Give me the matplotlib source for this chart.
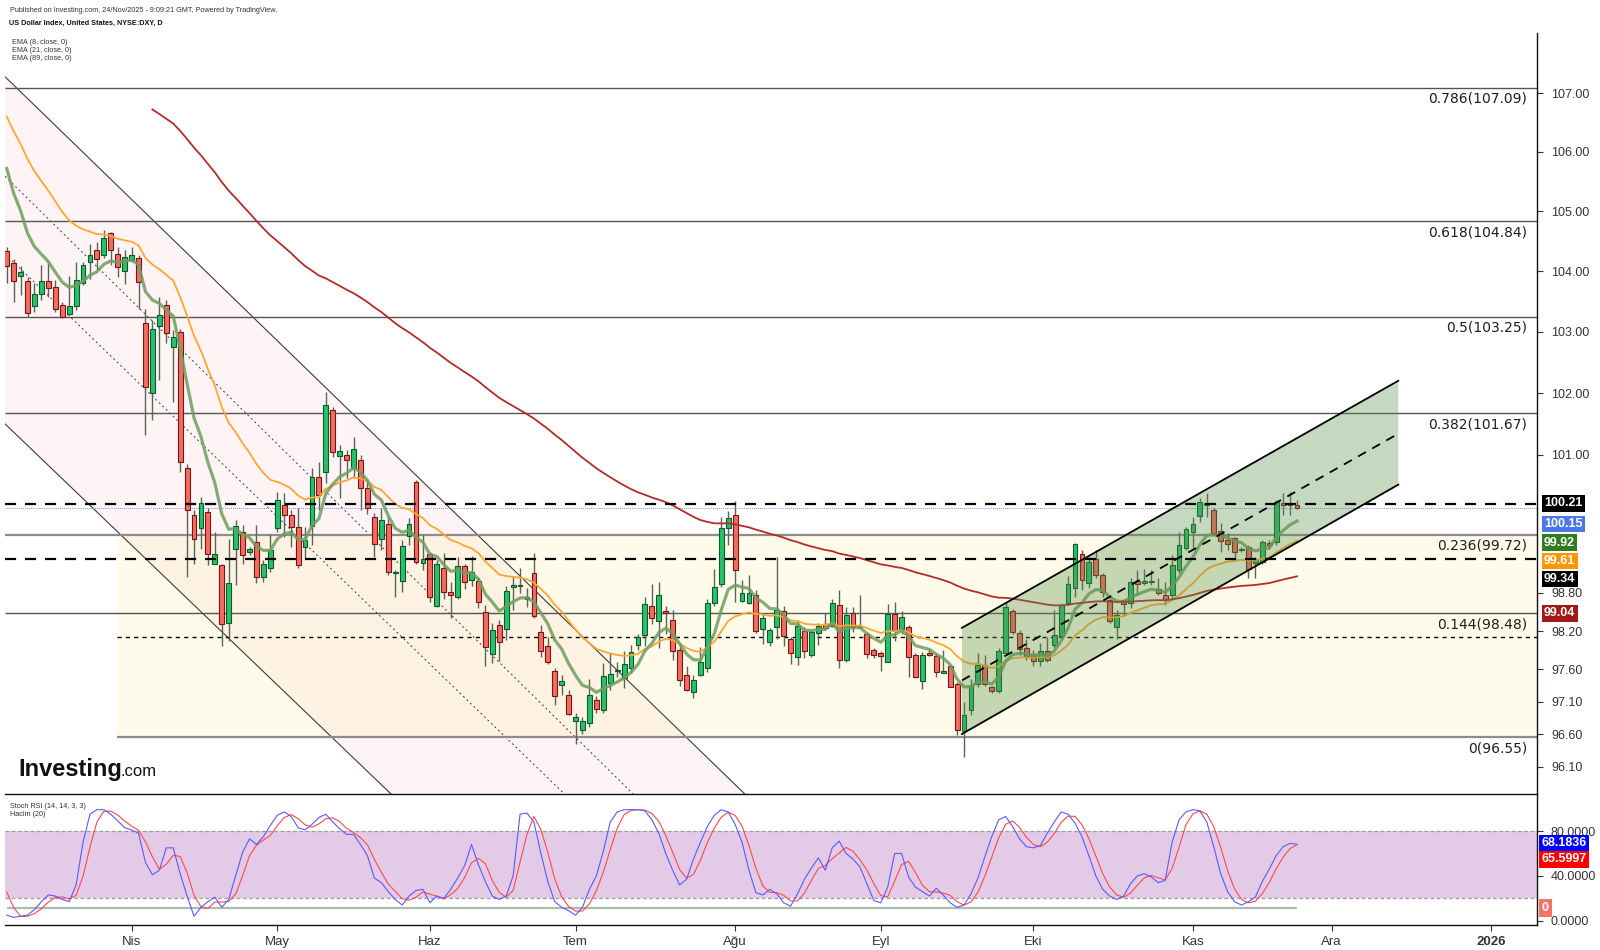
import numpy as np
import pandas as pd
import matplotlib
matplotlib.use("Agg")
import matplotlib.pyplot as plt
from matplotlib.patches import Polygon
from matplotlib.ticker import FixedLocator, NullLocator, NullFormatter, FuncFormatter

plt.rcParams['font.family'] = ['Liberation Sans', 'DejaVu Sans']

# daily candles, 6 Mar 2025 .. 24 Nov 2025 (Good Friday closed)
opens = [104.34, 104.13, 103.92, 103.84, 103.43, 103.62, 103.84, 103.74, 103.45, 103.29,
         103.43, 103.80, 104.16, 104.35, 104.27, 104.63, 104.29, 104.01, 104.19, 104.22,
         103.15, 102.00, 103.09, 103.44, 102.76, 103.00, 100.79, 100.04, 99.83, 100.08,
         99.26, 99.24, 98.32, 99.50, 99.76, 99.44, 99.61, 99.05, 99.19, 99.82,
         100.19, 100.03, 99.84, 99.53, 99.86, 100.64, 100.72, 101.73, 100.98, 100.99,
         100.78, 100.91, 100.46, 100.00, 99.66, 99.89, 99.11, 98.98, 99.70, 100.56,
         99.27, 99.42, 98.60, 99.20, 98.81, 98.74, 99.22, 99.00, 98.99, 98.50,
         97.84, 98.29, 98.23, 98.89, 98.91, 98.70, 99.11, 98.18, 97.96, 97.57,
         97.36, 97.20, 96.80, 96.66, 96.77, 97.13, 96.97, 97.39, 97.57, 97.46,
         97.62, 97.98, 98.14, 98.59, 98.36, 98.52, 98.38, 97.90, 97.52, 97.25,
         97.52, 97.62, 98.64, 98.94, 99.82, 100.03, 98.67, 98.64, 98.76, 98.23,
         98.03, 98.27, 98.52, 98.07, 97.79, 98.20, 97.83, 98.17, 98.31, 98.28,
         98.61, 97.75, 98.49, 98.28, 98.16, 97.90, 97.86, 97.72, 98.47, 98.23,
         98.26, 97.83, 97.42, 97.86, 97.81, 97.55, 97.65, 97.37, 96.65, 96.97,
         97.38, 97.67, 97.32, 97.27, 97.85, 98.52, 98.17, 97.93, 97.84, 97.73,
         97.88, 97.98, 98.12, 98.64, 98.87, 99.42, 98.96, 99.33, 99.08, 98.69,
         98.26, 98.69, 98.64, 98.98, 98.96, 98.97, 98.86, 98.76, 98.76, 99.16,
         99.51, 99.76, 100.02, 100.19, 100.12, 99.78, 99.64, 99.67, 99.47, 99.52,
         99.27, 99.29, 99.59, 99.60, 100.22, 100.21, 100.19]
highs = [104.40, 104.21, 104.08, 103.91, 103.80, 104.10, 104.13, 103.85, 103.49, 103.93,
         104.16, 104.16, 104.46, 104.49, 104.68, 104.65, 104.40, 104.35, 104.40, 104.27,
         103.38, 103.19, 103.57, 103.52, 103.03, 103.05, 100.85, 100.11, 100.32, 100.14,
         99.76, 99.26, 99.66, 99.95, 99.87, 99.52, 99.87, 99.32, 99.73, 100.40,
         100.38, 100.11, 100.14, 99.84, 100.78, 100.88, 102.01, 101.78, 101.15, 101.08,
         101.28, 100.99, 100.59, 100.06, 100.14, 100.00, 99.16, 99.64, 99.98, 100.59,
         99.71, 99.45, 99.32, 99.43, 98.97, 99.37, 99.26, 99.38, 99.05, 98.61,
         98.32, 98.38, 98.91, 99.05, 99.19, 98.87, 99.43, 98.29, 98.11, 97.62,
         97.52, 97.28, 96.93, 96.86, 97.45, 97.18, 97.70, 97.85, 97.72, 97.88,
         97.98, 98.15, 98.74, 98.94, 98.97, 98.59, 98.53, 98.01, 97.65, 97.52,
         97.95, 98.71, 99.17, 100.00, 100.10, 100.26, 99.00, 99.08, 98.85, 98.47,
         98.25, 99.36, 98.59, 98.11, 98.35, 98.27, 98.22, 98.33, 98.48, 98.71,
         98.85, 98.58, 98.58, 98.76, 98.19, 97.94, 97.88, 98.63, 98.66, 98.52,
         98.29, 97.85, 97.87, 97.94, 97.85, 97.90, 97.67, 97.41, 97.10, 97.45,
         97.85, 97.83, 97.35, 97.94, 98.64, 98.55, 98.22, 98.07, 97.90, 98.01,
         98.11, 98.53, 98.63, 99.07, 99.59, 99.47, 99.36, 99.48, 99.11, 98.71,
         98.53, 98.71, 99.04, 99.16, 99.17, 99.16, 99.03, 98.97, 99.40, 99.77,
         99.84, 100.01, 100.30, 100.38, 100.14, 99.91, 99.74, 99.69, 99.53, 99.55,
         99.36, 99.63, 99.63, 100.27, 100.38, 100.40, 100.28]
lows = [103.80, 103.49, 103.61, 103.25, 103.33, 103.52, 103.58, 103.33, 103.23, 103.27,
        103.36, 103.77, 103.88, 104.02, 104.22, 104.10, 103.91, 103.79, 104.16, 103.38,
        101.32, 101.56, 102.21, 102.81, 101.85, 100.72, 99.05, 99.26, 99.49, 99.24,
        99.26, 97.96, 98.04, 98.92, 99.26, 99.40, 98.95, 98.97, 99.13, 99.76,
        99.69, 99.53, 99.20, 99.34, 99.55, 100.11, 100.54, 100.96, 100.31, 100.62,
        100.62, 100.11, 100.05, 99.37, 99.47, 99.08, 98.73, 98.81, 99.55, 99.26,
        99.16, 98.65, 98.58, 98.71, 98.40, 98.70, 98.86, 98.91, 98.56, 97.65,
        97.70, 97.73, 98.06, 98.53, 98.79, 98.58, 98.40, 97.80, 97.69, 97.05,
        97.21, 96.89, 96.45, 96.60, 96.71, 96.93, 96.93, 97.28, 97.49, 97.31,
        97.54, 97.91, 97.96, 98.31, 97.93, 98.15, 97.75, 97.34, 97.26, 97.16,
        97.50, 97.56, 98.59, 98.90, 99.56, 98.66, 98.66, 98.62, 98.17, 97.99,
        97.97, 98.08, 97.97, 97.69, 97.67, 97.78, 97.80, 97.98, 98.21, 98.26,
        97.62, 97.72, 98.19, 98.24, 97.78, 97.78, 97.58, 97.72, 98.05, 98.15,
        97.48, 97.46, 97.30, 97.81, 97.49, 97.54, 97.32, 96.58, 96.25, 96.89,
        97.32, 97.34, 97.23, 97.23, 97.84, 98.15, 97.82, 97.75, 97.65, 97.65,
        97.71, 97.93, 98.10, 98.61, 98.74, 98.85, 98.87, 99.04, 98.74, 98.33,
        98.08, 98.43, 98.56, 98.76, 98.92, 98.92, 98.76, 98.61, 98.68, 99.11,
        99.48, 99.51, 99.92, 100.00, 99.71, 99.44, 99.48, 99.32, 99.44, 99.04,
        99.04, 99.26, 99.50, 99.56, 100.03, 100.03, 100.13]
closes = [104.08, 103.84, 103.99, 103.31, 103.63, 103.84, 103.73, 103.38, 103.24, 103.43,
          103.86, 104.10, 104.27, 104.20, 104.56, 104.36, 104.07, 104.23, 104.27, 103.83,
          102.10, 103.04, 103.27, 102.98, 102.91, 100.88, 100.12, 99.66, 100.23, 99.41,
          99.41, 98.31, 98.95, 99.86, 99.40, 99.49, 99.05, 99.25, 99.48, 100.27,
          100.04, 99.84, 99.24, 99.64, 100.64, 100.36, 101.80, 101.04, 101.06, 100.91,
          101.10, 100.46, 100.14, 99.58, 99.96, 99.13, 99.13, 99.54, 99.89, 99.29,
          99.34, 98.73, 99.25, 98.81, 98.76, 99.23, 98.97, 99.13, 98.66, 97.95,
          98.21, 98.03, 98.83, 98.92, 98.93, 98.73, 98.43, 97.88, 97.71, 97.18,
          97.42, 96.91, 96.86, 96.80, 97.21, 96.98, 97.50, 97.53, 97.59, 97.68,
          97.87, 98.11, 98.63, 98.41, 98.77, 98.49, 97.88, 97.43, 97.28, 97.44,
          97.72, 98.64, 98.90, 99.83, 99.99, 99.16, 98.79, 98.79, 98.20, 98.41,
          98.21, 98.53, 98.12, 97.85, 98.28, 97.88, 98.18, 98.28, 98.24, 98.64,
          97.75, 98.45, 98.26, 98.26, 97.84, 97.82, 97.81, 98.47, 98.22, 98.42,
          97.79, 97.48, 97.83, 97.82, 97.56, 97.57, 97.33, 96.66, 96.90, 97.35,
          97.67, 97.38, 97.27, 97.88, 98.58, 98.19, 97.92, 97.81, 97.73, 97.88,
          97.75, 98.14, 98.61, 98.94, 99.57, 99.00, 99.29, 99.08, 98.81, 98.36,
          98.45, 98.62, 98.97, 98.94, 98.98, 98.98, 98.80, 98.68, 99.24, 99.56,
          99.81, 99.89, 100.24, 100.23, 99.75, 99.62, 99.58, 99.45, 99.50, 99.18,
          99.33, 99.60, 99.56, 100.24, 100.20, 100.19, 100.15]

# Stoch RSI %K
stoch_k = [5, 3, 4, 5, 10, 17, 23, 22, 19, 17,
           32, 70, 95, 99, 99, 95, 89, 83, 81, 78,
           52, 41, 45, 65, 65, 42, 22, 4, 12, 17,
           21, 12, 19, 40, 61, 73, 68, 75, 85, 94,
           97, 93, 83, 81, 86, 92, 95, 88, 82, 77,
           77, 68, 58, 38, 34, 26, 19, 14, 22, 27,
           28, 16, 22, 20, 28, 38, 49, 68, 50, 35,
           22, 19, 22, 40, 95, 96, 88, 60, 35, 17,
           12, 9, 5, 12, 28, 40, 62, 88, 97, 99,
           99, 99, 98, 90, 78, 60, 45, 32, 37, 55,
           70, 84, 94, 99, 97, 86, 70, 45, 25, 23,
           28, 24, 16, 13, 24, 37, 47, 56, 45, 65,
           71, 60, 55, 48, 33, 18, 16, 30, 60, 60,
           39, 30, 26, 22, 29, 23, 16, 12, 14, 24,
           38, 57, 75, 90, 93, 84, 73, 66, 65, 67,
           78, 88, 97, 95, 87, 75, 58, 40, 28, 22,
           19, 22, 33, 40, 42, 39, 34, 36, 70, 90,
           97, 99, 98, 88, 66, 42, 26, 17, 14, 17,
           21, 35, 46, 58, 66, 69, 68.18]
# %D at the left edge (needs two earlier %K values)
stoch_k_before = [45, 27]

# EMA starting values read at the left end of each line
ema8_seed, ema21_seed, ema89_seed, ema89_start = 105.72, 106.60, 106.72, 21

fib_levels = [(0.786, 107.09), (0.618, 104.84), (0.5, 103.25), (0.382, 101.67),
              (0.236, 99.72), (0.144, 98.48), (0.0, 96.55)]
res_high, res_low, sup_fine, last_price = 100.21, 99.34, 98.10, 100.15
zone_start = 15.9

# channels: (bar, price) anchors
down_upper = [(-0.25, 107.28), (106.4, 95.68)]
down_lower = [(-0.25, 101.50), (55.4, 95.68)]
down_dot_a = [(-0.25, 105.59), (90.3, 95.68)]
down_dot_b = [(-0.25, 104.29), (80.4, 95.68)]
up_lower = [(137.7, 96.60), (200.6, 100.52)]
up_upper = [(137.7, 98.25), (200.6, 102.20)]
up_mid = [(137.7, 97.43), (200.6, 101.34)]

price_ticks = [107, 106, 105, 104, 103, 102, 101, 98.8, 98.2, 97.6, 97.1, 96.6, 96.1]
month_labels = ["Nis", "May", "Haz", "Tem", "Ağu", "Eyl", "Eki", "Kas", "Ara", "2026"]

side_labels = [("100.21", "black"), ("100.15", "#4a78e6"), ("99.92", "#2f7d1f"),
               ("99.61", "#ff9800"), ("99.34", "black"), ("99.04", "#a31818")]
side_label_y = [503.5, 524, 542.5, 561, 579, 613.3]

W, H = 1600, 950
def fx(v): return v / W
def fy(v): return 1 - v / H

def ema(vals, span, seed):
    a = 2.0 / (span + 1)
    out = [seed]
    for v in vals[1:]:
        out.append(out[-1] + a * (v - out[-1]))
    return np.array(out)

n = len(closes)
x = np.arange(n)
o, h, l, c = (np.array(v) for v in (opens, highs, lows, closes))

days = pd.bdate_range("2025-03-06", "2026-01-31")
days = days[days != pd.Timestamp("2025-04-18")]
month_idx = []
for per in pd.period_range("2025-04", "2026-01", freq="M"):
    month_idx.append(int(np.argmax(days.to_period("M") == per)))

fig = plt.figure(figsize=(16, 9.5), dpi=100)
ax2 = fig.add_axes([fx(5), fy(925), 1532 / W, (925 - 794) / H])
ax = fig.add_axes([fx(5), fy(794), 1532 / W, (794 - 33) / H])
ax2.patch.set_visible(False)

xmin, xmax = -0.25, 220.6
ax.set_yscale("log")
ax.set_xlim(xmin, xmax)
ax.set_ylim(95.68, 108.03)

# background zones
ax.add_patch(Polygon([down_upper[0], down_upper[1], down_lower[1], down_lower[0]],
                     closed=True, fc="#f23645", alpha=0.05, ec="none", zorder=0))
ax.fill_between([zone_start, xmax], fib_levels[-1][1], fib_levels[4][1],
                color="#ffeb80", alpha=0.16, lw=0, zorder=0)

for ch, ls, lw in [(down_upper, "-", 0.8), (down_lower, "-", 0.8),
                   (down_dot_a, (0, (2, 3)), 0.7), (down_dot_b, (0, (2, 3)), 0.7)]:
    ax.plot([p[0] for p in ch], [p[1] for p in ch], color="#3c3c3c", lw=lw, ls=ls, zorder=1)

# fib lines and labels
for r, lvl in fib_levels:
    heavy = r in (0.236, 0.0)
    x0 = zone_start if r == 0.0 else xmin
    ax.hlines(lvl, x0, xmax, color="#8c8c8c" if heavy else "#555555",
              lw=1.6 if heavy else 1.0, zorder=1)
    lab = f"{r:g}({lvl:.2f})" if r else f"0({lvl:.2f})"
    ax.annotate(lab, xy=(0.9935, lvl), xycoords=("axes fraction", "data"),
                xytext=(0, -3), textcoords="offset points", ha="right", va="top",
                fontsize=10, family="DejaVu Sans", color="#1e1e1e", zorder=6)

ax.hlines(sup_fine, zone_start, xmax, color="black", lw=1.0, linestyles=(0, (3, 3)), zorder=2)
ax.axhline(last_price, color="#7c9ce6", lw=0.7, ls=(0, (1, 1)), zorder=2)

# candles
up = c >= o
body_lo = np.minimum(o, c)
body_h = np.maximum(np.abs(c - o), 0.02)
ax.vlines(x, l, h, color="#56665a", lw=1.0, zorder=3)
ax.bar(x[up], body_h[up], bottom=body_lo[up], width=0.7, color="#27c16c",
       edgecolor="#0e5a28", lw=0.8, zorder=4)
ax.bar(x[~up], body_h[~up], bottom=body_lo[~up], width=0.7, color="#f36c61",
       edgecolor="#7d1414", lw=0.8, zorder=4)

# moving averages
e8 = ema(closes, 8, ema8_seed)
e21 = ema(closes, 21, ema21_seed)
e89 = ema(closes[ema89_start:], 89, ema89_seed)
ax.plot(x, e21, color="#ffa630", lw=1.3, zorder=5)
ax.plot(x, e8, color="#6f9e5f", lw=2.3, alpha=0.85, zorder=5)
ax.plot(x[ema89_start:], e89, color="#b52a2a", lw=1.3, zorder=5)

# rising channel
ax.add_patch(Polygon([up_lower[0], up_lower[1], up_upper[1], up_upper[0]], closed=True,
                     fc="#59924b", alpha=0.35, ec="none", zorder=6))
for ch, ls in [(up_lower, "-"), (up_upper, "-"), (up_mid, (0, (5, 4)))]:
    ax.plot([p[0] for p in ch], [p[1] for p in ch], color="black", lw=1.3, ls=ls, zorder=7)

for lvl in (res_high, res_low):
    ax.axhline(lvl, color="black", lw=1.6, ls=(0, (5, 4)), zorder=7)

# axes cosmetics
for s in ("left", "top"):
    ax.spines[s].set_visible(False)
    ax2.spines[s].set_visible(False)
for s in ("bottom", "right"):
    ax.spines[s].set_color("#111")
    ax.spines[s].set_linewidth(1.0)
    ax2.spines[s].set_color("#111")
    ax2.spines[s].set_linewidth(1.0)
ax.yaxis.tick_right()
ax.yaxis.set_major_locator(FixedLocator(price_ticks))
ax.yaxis.set_major_formatter(FuncFormatter(lambda v, p: f"{v:.2f}"))
ax.yaxis.set_minor_locator(NullLocator())
ax.yaxis.set_minor_formatter(NullFormatter())
ax.tick_params(axis="y", direction="out", length=4, pad=6, labelsize=9, colors="#333")
ax.tick_params(axis="x", bottom=False, labelbottom=False)

# stoch rsi pane
k_all = pd.Series(stoch_k_before + stoch_k, dtype=float)
d = k_all.rolling(3).mean().to_numpy()[len(stoch_k_before):]
k = np.array(stoch_k, dtype=float)
ax2.set_xlim(xmin, xmax)
ax2.set_ylim(-3.8, 113)
ax2.axhspan(20, 80, color="#e3cae7", lw=0, zorder=0)
for lvl in (20, 80):
    ax2.axhline(lvl, color="#9c9c9c", lw=0.9, ls=(0, (3, 2)), zorder=1)
ax2.hlines(11, 0, n - 1, color="#a9bdb0", lw=1.6, zorder=1)
ax2.plot(x, d, color="#ff4a4a", lw=0.8, zorder=3)
ax2.plot(x, k, color="#5a5aff", lw=0.8, zorder=3)
ax2.yaxis.tick_right()
ax2.set_yticks([80, 40, 0])
ax2.set_yticklabels(["80.0000", "40.0000", "0.0000"])
ax2.tick_params(axis="y", direction="out", length=4, pad=6, labelsize=9, colors="#333")
ax2.set_xticks(month_idx)
ax2.set_xticklabels(month_labels)
ax2.get_xticklabels()[-1].set_fontweight("bold")
ax2.tick_params(axis="x", direction="out", length=4, pad=4, labelsize=9.5, colors="#333")

# price tags on the right
for (txt, col), yy in zip(side_labels, side_label_y):
    fig.text(fx(1544), fy(yy), txt, color="white", fontsize=9, fontweight="bold",
             va="center", ha="left",
             bbox=dict(boxstyle="square,pad=0.18", fc=col, ec="none"))
fig.text(fx(1541), fy(843), "68.1836", color="white", fontsize=9, fontweight="bold",
         va="center", bbox=dict(boxstyle="square,pad=0.2", fc="#0000ff", ec="none"))
fig.text(fx(1541), fy(859), "65.5997", color="white", fontsize=9, fontweight="bold",
         va="center", bbox=dict(boxstyle="square,pad=0.2", fc="#ff0000", ec="none"))
fig.text(fx(1542), fy(908), "0", color="white", fontsize=9, fontweight="bold",
         va="center", bbox=dict(boxstyle="square,pad=0.25", fc="#f47468", ec="none"))

# header texts
fig.text(fx(10), fy(10), "Published on Investing.com, 24/Nov/2025 - 9:09:21 GMT, Powered by TradingView.",
         fontsize=5.2, va="center", color="#333")
fig.text(fx(9), fy(23), "US Dollar Index, United States, NYSE:DXY, D", fontsize=5.2,
         fontweight="bold", va="center", color="#111")
for i, s in enumerate(["EMA (8, close, 0)", "EMA (21, close, 0)", "EMA (89, close, 0)"]):
    fig.text(fx(11.5), fy(42.3 + 8.3 * i), s, fontsize=5.2, va="center", color="#333")
fig.text(fx(10.5), fy(806), "Stoch RSI (14, 14, 3, 3)", fontsize=5.2, va="center", color="#333")
fig.text(fx(10.5), fy(814), "Hacim (20)", fontsize=5.2, va="center", color="#333")

fig.text(fx(18), fy(776), "Investing", fontsize=17, fontweight="bold", va="baseline", color="#111")
fig.text(fx(120.5), fy(776), ".com", fontsize=12, va="baseline", color="#111")

fig.savefig("out.png", dpi=100, facecolor="white")
